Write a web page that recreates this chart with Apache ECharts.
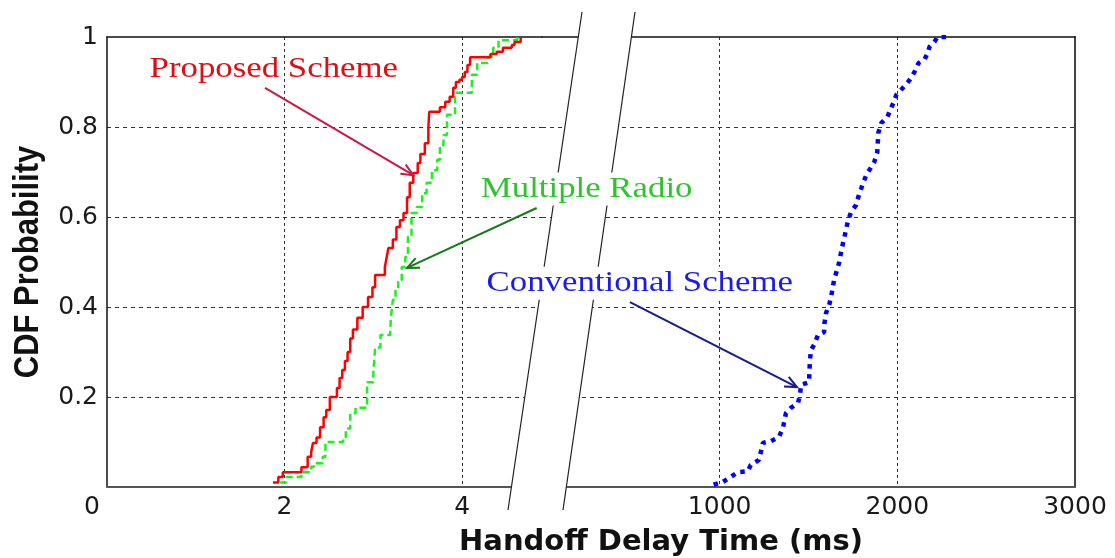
<!DOCTYPE html>
<html><head><meta charset="utf-8">
<script src="https://cdn.jsdelivr.net/npm/echarts@6/dist/echarts.min.js"></script>
<style>html,body{margin:0;padding:0;background:#fff}#c{width:1115px;height:558px}</style>
</head><body><div id="c"></div>
<script>
// ---- data ----
const leftRange = [0, 4.9];          // ms, left part of the broken x axis
const rightRange = [0, 3000];        // ms, right part of the broken x axis
const leftInterval = 2;
const rightInterval = 1000;
const yInterval = 0.2;

// Proposed Scheme CDF: [delay ms, probability]
const proposed = [
  [1.87,0.01],[1.93,0.022],[1.98,0.033],[2.19,0.044],[2.26,0.067],[2.30,0.078],[2.32,0.098],
  [2.36,0.11],[2.40,0.133],[2.44,0.155],[2.47,0.171],[2.51,0.2],[2.59,0.22],[2.62,0.242],
  [2.65,0.26],[2.68,0.28],[2.71,0.30],[2.74,0.33],[2.77,0.35],[2.82,0.376],[2.88,0.40],
  [2.94,0.422],[2.99,0.444],[3.02,0.471],[3.13,0.489],[3.15,0.51],[3.17,0.531],[3.22,0.55],
  [3.26,0.578],[3.30,0.593],[3.34,0.609],[3.38,0.644],[3.41,0.676],[3.45,0.698],[3.50,0.72],
  [3.53,0.74],[3.58,0.764],[3.62,0.80],[3.63,0.834],[3.75,0.844],[3.81,0.856],[3.86,0.867],
  [3.90,0.887],[3.93,0.90],[3.97,0.905],[4.00,0.911],[4.03,0.922],[4.06,0.938],[4.09,0.955],
  [4.32,0.962],[4.39,0.967],[4.46,0.976],[4.56,0.982],[4.59,0.989],[4.66,1.0]
];
// Multiple Radio CDF
const multipleRadio = [
  [1.95,0.01],[2.02,0.022],[2.19,0.033],[2.30,0.045],[2.33,0.053],[2.43,0.067],[2.46,0.10],
  [2.66,0.111],[2.69,0.13],[2.74,0.164],[2.80,0.176],[2.93,0.233],[3.00,0.253],[3.02,0.31],
  [3.08,0.338],[3.19,0.35],[3.20,0.38],[3.22,0.416],[3.25,0.44],[3.28,0.46],[3.32,0.489],
  [3.36,0.511],[3.39,0.556],[3.43,0.609],[3.49,0.622],[3.55,0.653],[3.60,0.676],[3.66,0.704],
  [3.72,0.727],[3.75,0.76],[3.79,0.782],[3.83,0.827],[3.92,0.876],[4.11,0.916],[4.17,0.942],
  [4.29,0.956],[4.35,0.976],[4.41,0.993],[4.62,1.0]
];
// Conventional Scheme CDF
const conventional = [
  [966,0.005],[1017,0.011],[1062,0.022],[1102,0.033],[1158,0.035],[1175,0.049],[1220,0.06],
  [1232,0.078],[1243,0.098],[1288,0.102],[1333,0.111],[1356,0.131],[1373,0.164],[1401,0.176],
  [1441,0.187],[1452,0.204],[1458,0.227],[1503,0.233],[1508,0.282],[1514,0.304],[1531,0.316],
  [1554,0.338],[1588,0.344],[1590,0.364],[1599,0.387],[1616,0.404],[1627,0.422],[1644,0.46],
  [1672,0.498],[1689,0.533],[1701,0.553],[1723,0.593],[1740,0.611],[1768,0.627],[1780,0.644],
  [1808,0.676],[1825,0.693],[1853,0.711],[1870,0.722],[1887,0.744],[1893,0.787],[1910,0.809],
  [1944,0.822],[1960,0.838],[1977,0.853],[1994,0.871],[2045,0.893],[2068,0.904],[2096,0.922],
  [2119,0.942],[2153,0.95],[2170,0.964],[2181,0.978],[2209,0.989],[2226,1.0],[2305,1.0]
];
const seriesNames = ['Proposed Scheme', 'Multiple Radio', 'Conventional Scheme'];
const xTitle = 'Handoff Delay Time (ms)';
const yTitle = 'CDF Probability';

// ---- chart ----
const chart = echarts.init(document.getElementById('c'), null, {renderer: 'canvas'});
const GRID_TOP = 37, GRID_BOTTOM = 71;
const labelFont = {fontFamily: 'DejaVu Sans', fontSize: 25, color: '#1a1a1a'};
const hDash = {color: '#333', width: 1, type: [4, 4]};
const vDash = {color: '#333', width: 1, type: [3, 3]};

function bottomAxis(grid, range, interval, extraLabel) {
  return {
    type: 'value', gridIndex: grid, position: 'bottom', min: range[0], max: range[1], interval: interval,
    axisLine: {show: true, lineStyle: {color: '#555', width: 2}},
    axisTick: {show: false},
    axisLabel: Object.assign({margin: 8, formatter: v => String(v)}, labelFont, extraLabel),
    splitLine: {show: true, showMinLine: false, showMaxLine: false, lineStyle: vDash}
  };
}
function topAxis(grid, range) {
  return {
    type: 'value', gridIndex: grid, position: 'top', min: range[0], max: range[1],
    axisLine: {show: true, onZero: false, lineStyle: {color: '#111', width: 1.5}},
    axisTick: {show: false}, axisLabel: {show: false}, splitLine: {show: false}
  };
}

chart.setOption({
  animation: false,
  backgroundColor: '#fff',
  grid: [
    {left: 107, right: 1115 - 542, top: GRID_TOP, bottom: GRID_BOTTOM},
    {left: 542, right: 1115 - 1075, top: GRID_TOP, bottom: GRID_BOTTOM}
  ],
  xAxis: [
    bottomAxis(0, leftRange, leftInterval, {
      showMaxLabel: false,
      formatter: v => v === 0 ? '{z|0}' : String(v),
      rich: {z: {fontFamily: 'DejaVu Sans', fontSize: 25, color: '#1a1a1a', padding: [0, 30, 0, 0]}}
    }),
    bottomAxis(1, rightRange, rightInterval, {showMinLabel: false}),
    topAxis(0, leftRange),
    topAxis(1, rightRange)
  ],
  yAxis: [
    {
      type: 'value', gridIndex: 0, min: 0, max: 1, interval: yInterval, position: 'left',
      axisLine: {show: true, onZero: false, lineStyle: {color: '#111', width: 1.5}},
      axisTick: {show: false},
      axisLabel: Object.assign({margin: 9, showMinLabel: false,
        formatter: v => v === 1 ? '1' : (+v).toFixed(1)}, labelFont),
      splitLine: {show: true, showMinLine: false, showMaxLine: false, lineStyle: hDash}
    },
    {
      type: 'value', gridIndex: 1, min: 0, max: 1, interval: yInterval, position: 'right',
      axisLine: {show: true, onZero: false, lineStyle: {color: '#444', width: 2}},
      axisTick: {show: false}, axisLabel: {show: false},
      splitLine: {show: true, showMinLine: false, showMaxLine: false, lineStyle: hDash}
    }
  ],
  series: [
    {name: seriesNames[0], type: 'line', xAxisIndex: 0, yAxisIndex: 0, data: proposed, step: 'end',
     showSymbol: false, lineStyle: {color: '#ff0000', width: 2.5}, z: 4},
    {name: seriesNames[1], type: 'line', xAxisIndex: 0, yAxisIndex: 0, data: multipleRadio, step: 'end',
     showSymbol: false, lineStyle: {color: '#1ef01e', width: 2.5, type: [7, 4]}, z: 3},
    {name: seriesNames[2], type: 'line', xAxisIndex: 1, yAxisIndex: 1, data: conventional,
     showSymbol: false, lineStyle: {color: '#0000ff', width: 4.5, type: [4.5, 5.5], cap: 'butt'}, z: 3}
  ]
});

// ---- annotations (anchored in data coordinates) ----
const P = (grid, pt) => chart.convertToPixel({gridIndex: grid}, pt);
const annotations = [
  {text: seriesNames[0], color: '#dc0f14', line: '#cf1746', grid: 0, at: [0.48, 0.927], from: [1.78, 0.887], to: [3.45, 0.693], bg: null, fromGrid: 0, toGrid: 0},
  {text: seriesNames[1], color: '#2fc42f', line: '#177a17', grid: 0, at: [4.17, 0.662], from: [4.84, 0.62], to: [3.38, 0.487], bg: '#fff', fromGrid: 0, toGrid: 0},
  {text: seriesNames[2], color: '#1c1ce6', line: '#1a1a90', grid: 0, at: [4.235, 0.453], from: [495, 0.411], to: [1435, 0.222], bg: '#fff', fromGrid: 1, toGrid: 1}
];

const graphics = [];
// axis break band
const brk = [[582, 12], [635, 12], [563, 510], [508, 510]];
graphics.push({type: 'polygon', z: 100, shape: {points: brk}, style: {fill: '#fff', stroke: null}});
graphics.push({type: 'line', z: 101, shape: {x1: brk[0][0], y1: brk[0][1], x2: brk[3][0], y2: brk[3][1]}, style: {stroke: '#222', lineWidth: 1.2}});
graphics.push({type: 'line', z: 101, shape: {x1: brk[1][0], y1: brk[1][1], x2: brk[2][0], y2: brk[2][1]}, style: {stroke: '#222', lineWidth: 1.2}});

annotations.forEach(a => {
  const t = P(a.grid, a.at);
  const f = P(a.fromGrid, a.from);
  const e = P(a.toGrid, a.to);
  graphics.push({
    type: 'text', z: 120, x: t[0], y: t[1], scaleX: 1.2, scaleY: 1,
    style: {text: a.text, fill: a.color, font: '29px "Liberation Serif", "Times New Roman", serif',
            align: 'left', verticalAlign: 'middle',
            backgroundColor: a.bg || 'transparent', padding: a.bg ? [2, 3, 2, 3] : 0}
  });
  graphics.push({type: 'line', z: 121, shape: {x1: f[0], y1: f[1], x2: e[0], y2: e[1]},
    style: {stroke: a.line, lineWidth: 2}});
  const ang = Math.atan2(e[1] - f[1], e[0] - f[0]);
  const L = 13, w = 0.42;
  graphics.push({type: 'polyline', z: 121, shape: {points: [
      [e[0] - L * Math.cos(ang - w), e[1] - L * Math.sin(ang - w)],
      [e[0], e[1]],
      [e[0] - L * Math.cos(ang + w), e[1] - L * Math.sin(ang + w)]]},
    style: {stroke: a.line, lineWidth: 2, fill: null}});
});

// axis titles
graphics.push({type: 'text', z: 120, x: 661, y: 542,
  style: {text: xTitle, fill: '#111', font: 'bold 29px "DejaVu Sans", sans-serif', align: 'center', verticalAlign: 'middle'}});
graphics.push({type: 'text', z: 120, x: 28, y: 262, rotation: Math.PI / 2, scaleX: 1, scaleY: 1.15,
  style: {text: yTitle, fill: '#111', font: 'bold 31px "Liberation Sans", Arial, sans-serif', align: 'center', verticalAlign: 'middle'}});

chart.setOption({graphic: {elements: graphics}});
</script>
</body></html>
